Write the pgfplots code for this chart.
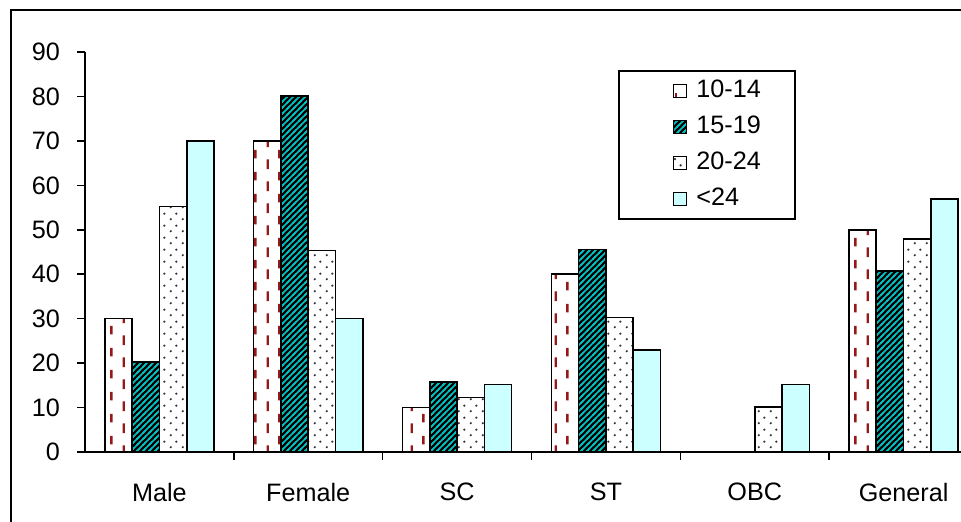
\documentclass[border=0pt]{standalone}
\usepackage{fontspec}
\setmainfont{Liberation Sans}
\usepackage{pgfplots}
\pgfplotsset{compat=1.18}
\usetikzlibrary{patterns}

\definecolor{dashred}{RGB}{150,25,25}
\definecolor{stripe}{RGB}{0,195,195}
\definecolor{lightcyan}{RGB}{204,255,255}
\definecolor{dotgray}{RGB}{50,50,50}

% staggered vertical dashes (10-14)
\pgfdeclarepatternformonly{vdash}{\pgfpointorigin}{\pgfpoint{12pt}{11pt}}{\pgfpoint{12pt}{11pt}}{%
  \pgfsetlinewidth{1.2pt}%
  \pgfpathmoveto{\pgfpoint{2pt}{0.5pt}}\pgfpathlineto{\pgfpoint{2pt}{5.5pt}}%
  \pgfpathmoveto{\pgfpoint{8pt}{6pt}}\pgfpathlineto{\pgfpoint{8pt}{10.5pt}}%
  \pgfusepath{stroke}}
% diagonal stripes (15-19)
\pgfdeclarepatternformonly{diagstripe}{\pgfpoint{-1pt}{-1pt}}{\pgfpoint{4pt}{4pt}}{\pgfpoint{3pt}{3pt}}{%
  \pgfsetlinewidth{0.8pt}%
  \pgfpathmoveto{\pgfpoint{-1pt}{-1pt}}\pgfpathlineto{\pgfpoint{4pt}{4pt}}%
  \pgfusepath{stroke}}
% dots (20-24)
\pgfdeclarepatternformonly{sdots}{\pgfpointorigin}{\pgfpoint{6pt}{6pt}}{\pgfpoint{6pt}{6pt}}{%
  \pgfpathcircle{\pgfpoint{1.5pt}{1.5pt}}{0.65pt}%
  \pgfpathcircle{\pgfpoint{4.5pt}{4.5pt}}{0.65pt}%
  \pgfusepath{fill}}

\newcommand{\lbl}{\fontsize{12.6}{15}\selectfont}

\begin{document}
\begin{tikzpicture}
\useasboundingbox (-42.5pt,-35pt) rectangle (438pt,226pt);
\clip (-42.5pt,-35pt) rectangle (438pt,226pt);
\draw[line width=1pt] (-37pt,221pt) rectangle (470pt,-60pt);
\begin{axis}[
  at={(0,0)}, anchor=south west,
  scale only axis,
  width=446.5pt, height=200pt,
  ybar=0pt,
  bar width=0.1834,
  xmin=-0.5, xmax=5.5,
  ymin=0, ymax=90,
  axis lines*=left,
  axis line style={line width=1pt, -},
  ytick={0,10,...,90},
  xtick={0,...,5},
  xticklabels={Male,Female,SC,ST,OBC,General},
  minor xtick={0.5,1.5,2.5,3.5,4.5,5.5},
  tick align=outside,
  major tick length=4pt,
  minor tick length=4pt,
  major x tick style={draw=none},
  tick style={line width=0.8pt, black},
  tick label style={font=\lbl},
  /pgf/number format/assume math mode=true,
  xticklabel style={yshift=-8pt},
  yticklabel style={xshift=-5pt},
  legend style={at={(0.5969,0.955)}, anchor=north west,
    draw=black, line width=1pt, font=\lbl,
    inner xsep=3pt, inner ysep=3pt, row sep=4pt,
    nodes={text height=9pt, text depth=3pt, inner ysep=1pt},
    /tikz/every odd column/.append style={column sep=2.5pt}},
  legend cell align=left,
  legend image code/.code={%
    \path (-24pt,0pt);
    \draw[#1, line width=0.6pt] (0pt,-3.25pt) rectangle (6.5pt,3.25pt);},
]
\addplot[draw=black, line width=0.8pt, fill=white, bar shift=-0.2751,
  postaction={pattern=vdash, pattern color=dashred}]
  coordinates {(0,30) (1,70) (2,10) (3,40) (5,50)};
\addlegendentry{10-14\hspace*{12pt}}
\addplot[draw=black, line width=0.8pt, fill=black, bar shift=-0.0917,
  postaction={pattern=diagstripe, pattern color=stripe}]
  coordinates {(0,20.2) (1,80.1) (2,15.7) (3,45.6) (5,40.7)};
\addlegendentry{15-19}
\addplot[draw=black, line width=0.8pt, fill=white, bar shift=0.0917,
  postaction={pattern=sdots, pattern color=dotgray}]
  coordinates {(0,55.2) (1,45.3) (2,12.3) (3,30.3) (4,10.1) (5,47.9)};
\addlegendentry{20-24}
\addplot[draw=black, line width=0.8pt, fill=lightcyan, bar shift=0.2751]
  coordinates {(0,70) (1,30) (2,15.2) (3,22.9) (4,15.2) (5,56.9)};
\addlegendentry{<24}
\end{axis}
\end{tikzpicture}
\end{document}
